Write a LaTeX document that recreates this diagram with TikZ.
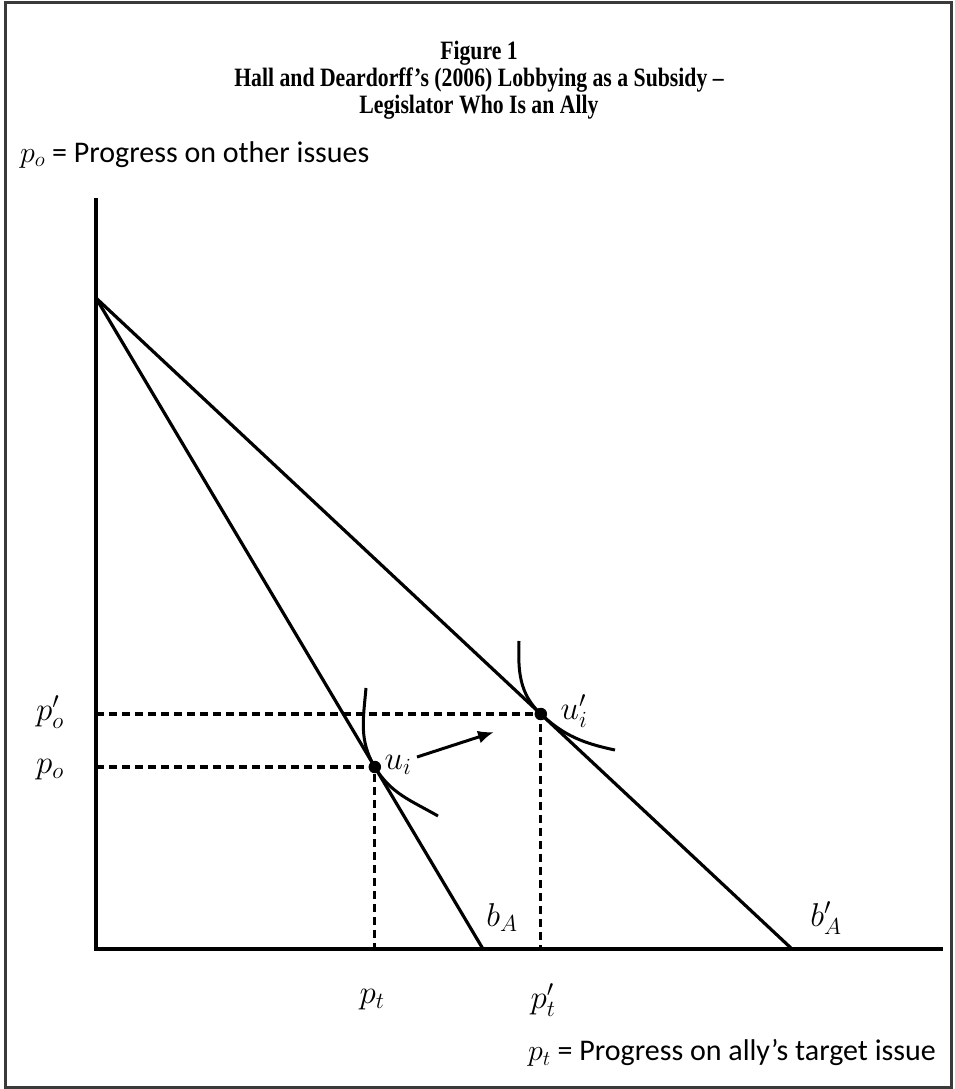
\documentclass[tikz,border=0pt]{standalone}
\usepackage{fix-cm}
\usepackage{fontspec}
\setsansfont{Carlito}
\newfontfamily\titlefont[FakeStretch=0.82]{Liberation Serif}
\usepackage{xcolor}
\definecolor{framegray}{HTML}{3A3A3A}
\usetikzlibrary{arrows.meta}

\begin{document}
\begin{tikzpicture}[x=1pt, y=-1pt,
  every node/.style={inner sep=0pt},
  axisline/.style={line width=3.4pt},
  budget/.style={line width=3.2pt},
  guide/.style={line width=3.2pt, dash pattern=on 8pt off 5pt},
  indiff/.style={line width=3pt},
  dot/.style={circle, fill=black, minimum size=12.5pt},
  lbl/.style={font=\fontsize{33}{38}\selectfont},
  txt/.style={font=\sffamily\fontsize{30}{35}\selectfont}]

  \useasboundingbox (0,0) rectangle (954,1089);
  \draw[framegray, line width=3pt] (5,3) rectangle (951,1087);

  % title
  \node[font=\titlefont\bfseries\fontsize{26.5}{27}\selectfont, align=center] (title) at (479,80)
    {Figure 1\\Hall and Deardorff’s (2006) Lobbying as a Subsidy –\\Legislator Who Is an Ally};
  \node[txt, anchor=west] (ylab) at (20,155) {$p_o$ = Progress on other issues};
  \node[txt, anchor=east] (xlab) at (936,1053) {$p_t$ = Progress on ally’s target issue};

  % axes and budget lines
  \coordinate (O) at (96,949);
  \coordinate (ytop) at (96,198);
  \coordinate (xend) at (943,949);
  \coordinate (I) at (96,298);
  \coordinate (bA) at (483,949);
  \coordinate (bAp) at (792,949);
  \draw[axisline] (ytop) -- (O) -- (xend);
  \draw[budget] (I) -- (bA);
  \draw[budget] (I) -- (bAp);

  % tangency points
  \node[dot] (ui) at (374.8,767) {};
  \node[dot] (uip) at (540.8,714) {};

  % dashed guides
  \draw[guide] (O |- ui.center) -- (ui.center) -- (ui.center |- O);
  \draw[guide] (O |- uip.center) -- (uip.center) -- (uip.center |- O);

  % indifference curves
  \coordinate (uTop) at (366,688);
  \coordinate (uEnd) at (438,816);
  \coordinate (upTop) at (519,641);
  \coordinate (upEnd) at (615,750);
  \draw[indiff] (uTop) to[out=-95,in=121] (ui.center) to[out=-59,in=150] (uEnd);
  \draw[indiff] (upTop) to[out=-92,in=137] (uip.center) to[out=-43,in=168] (upEnd);

  % shift arrow
  \coordinate (arrS) at (417,757);
  \coordinate (arrE) at (494,732);
  \draw[line width=3pt, -{Latex[length=16pt,width=13pt]}] (arrS) -- (arrE);

  % labels
  \node[lbl] (poP) at (50,712) {$p'_o$};
  \node[lbl] (po) at (50,770) {$p_o$};
  \node[lbl] (pt) at (372,1000) {$p_t$};
  \node[lbl] (ptP) at (543,1000) {$p'_t$};
  \node[lbl] (bAl) at (502,918) {$b_A$};
  \node[lbl] (bApl) at (826,918) {$b'_A$};
  \node[lbl] (uil) at (398,765) {$u_i$};
  \node[lbl] (uipl) at (574,711) {$u'_i$};
\end{tikzpicture}
\end{document}
